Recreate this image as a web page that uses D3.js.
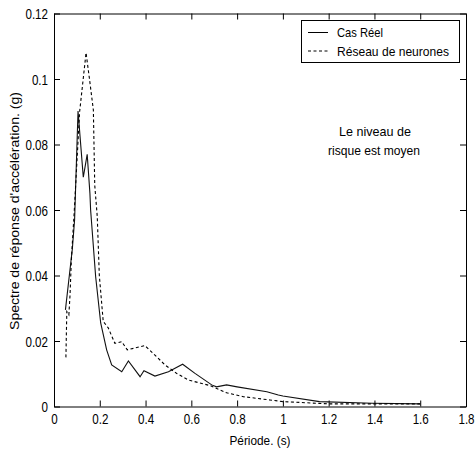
<!DOCTYPE html>
<html><head><meta charset="utf-8">
<script src="https://cdn.jsdelivr.net/npm/d3@7"></script>
<style>body{margin:0;background:#fff}svg{display:block}text{font-family:"Liberation Sans",Arial,sans-serif;fill:#000}</style>
</head><body><svg id="c" width="475" height="455"></svg>
<script>
const realX = [0.05, 0.08, 0.09, 0.105, 0.128, 0.145, 0.157, 0.16, 0.182, 0.204, 0.23, 0.252, 0.296, 0.325, 0.376, 0.393, 0.441, 0.5, 0.562, 0.616, 0.689, 0.71, 0.754, 0.8, 0.93, 0.98, 1.0, 1.16, 1.39, 1.6];
const realY = [0.0295, 0.048, 0.057, 0.0902, 0.070, 0.077, 0.065, 0.060, 0.0396, 0.0255, 0.0173, 0.0127, 0.0106, 0.0139, 0.0091, 0.0109, 0.0093, 0.0106, 0.0129, 0.0101, 0.0066, 0.006, 0.0066, 0.006, 0.0045, 0.0035, 0.0032, 0.0015, 0.001, 0.0008];
const nnX = [0.052, 0.056, 0.065, 0.07, 0.076, 0.088, 0.112, 0.14, 0.155, 0.172, 0.178, 0.189, 0.198, 0.215, 0.237, 0.266, 0.296, 0.32, 0.397, 0.426, 0.485, 0.536, 0.587, 0.681, 0.754, 0.827, 0.943, 1.0, 1.2, 1.6];
const nnY = [0.015, 0.029, 0.028, 0.034, 0.045, 0.059, 0.090, 0.108, 0.100, 0.0905, 0.0676, 0.058, 0.040, 0.026, 0.024, 0.0193, 0.0198, 0.0173, 0.0186, 0.0167, 0.0127, 0.0101, 0.0081, 0.0064, 0.0042, 0.003, 0.002, 0.0015, 0.0008, 0.0008];
const xTicks = [0, 0.2, 0.4, 0.6, 0.8, 1, 1.2, 1.4, 1.6, 1.8];
const yTicks = [0, 0.02, 0.04, 0.06, 0.08, 0.1, 0.12];
const seriesNames = ["Cas Réel", "Réseau de neurones"];

const L = 54, R = 466, T = 13.5, B = 406.5;
const svg = d3.select("#c");
const x = d3.scaleLinear().domain([0, 1.8]).range([L, R]);
const y = d3.scaleLinear().domain([0, 0.12]).range([B, T]);
const fmt = d => d === 0 ? "0" : String(d);
const fs = "14.5px", sx = 0.8;

const gx = svg.append("g").attr("transform", `translate(0,${B})`)
  .call(d3.axisBottom(x).tickValues(xTicks).tickFormat(fmt).tickSizeInner(-6).tickSizeOuter(0).tickPadding(5));
const gy = svg.append("g").attr("transform", `translate(${L},0)`)
  .call(d3.axisLeft(y).tickValues(yTicks).tickFormat(fmt).tickSizeInner(-6).tickSizeOuter(0).tickPadding(6));
const gt = svg.append("g").attr("transform", `translate(0,${T})`)
  .call(d3.axisTop(x).tickValues(xTicks).tickFormat("").tickSizeInner(-6).tickSizeOuter(0));
const gr = svg.append("g").attr("transform", `translate(${R},0)`)
  .call(d3.axisRight(y).tickValues(yTicks).tickFormat("").tickSizeInner(-6).tickSizeOuter(0));
[gx, gy, gt, gr].forEach(g => {
  g.selectAll("path.domain").attr("stroke", "#000").attr("stroke-width", 1);
  g.selectAll(".tick line").attr("stroke", "#000");
  g.selectAll("text").style("font-size", fs).style("font-family", "'Liberation Sans',Arial,sans-serif").attr("fill", "#000");
});
gx.selectAll(".tick text").attr("transform", `scale(${sx},1)`).attr("x", 0).attr("y", 7);
gy.selectAll(".tick text").attr("transform", `scale(${sx},1)`).attr("x", -6 / sx).attr("dy", "0.35em");

const line = d3.line().x(d => x(d[0])).y(d => y(d[1]));
svg.append("path").datum(realX.map((v, i) => [v, realY[i]]))
  .attr("d", line).attr("fill", "none").attr("stroke", "#111").attr("stroke-width", 1.1);
svg.append("path").datum(nnX.map((v, i) => [v, nnY[i]]))
  .attr("d", line).attr("fill", "none").attr("stroke", "#000").attr("stroke-width", 1.1).attr("stroke-dasharray", "3,2.5");

svg.append("rect").attr("x", 301.5).attr("y", 20.5).attr("width", 158).attr("height", 42)
  .attr("fill", "#fff").attr("stroke", "#000").attr("stroke-width", 1);
svg.append("line").attr("x1", 308).attr("x2", 328).attr("y1", 32.5).attr("y2", 32.5).attr("stroke", "#000");
svg.append("line").attr("x1", 308).attr("x2", 328).attr("y1", 51).attr("y2", 51).attr("stroke", "#000").attr("stroke-dasharray", "3,2.5");
svg.append("text").attr("x", 337).attr("y", 32.5).attr("dy", "0.35em").style("font-size", "13.5px")
  .attr("textLength", 46).attr("lengthAdjust", "spacingAndGlyphs").text(seriesNames[0]);
svg.append("text").attr("x", 337).attr("y", 51).attr("dy", "0.35em").style("font-size", "13.5px")
  .attr("textLength", 112).attr("lengthAdjust", "spacingAndGlyphs").text(seriesNames[1]);

svg.append("text").attr("x", 375).attr("y", 131).attr("dy", "0.35em").attr("text-anchor", "middle").style("font-size", "13.5px")
  .attr("textLength", 72).attr("lengthAdjust", "spacingAndGlyphs").text("Le niveau de");
svg.append("text").attr("x", 374).attr("y", 150).attr("dy", "0.35em").attr("text-anchor", "middle").style("font-size", "13.5px")
  .attr("textLength", 92).attr("lengthAdjust", "spacingAndGlyphs").text("risque est moyen");

svg.append("text").attr("x", 260).attr("y", 440).attr("dy", "0.35em").attr("text-anchor", "middle").style("font-size", "13.5px")
  .attr("textLength", 61).attr("lengthAdjust", "spacingAndGlyphs").text("Période. (s)");
svg.append("text").attr("transform", "translate(14,211) rotate(-90)").attr("dy", "0.35em").attr("text-anchor", "middle")
  .style("font-size", "13.5px").attr("textLength", 238).attr("lengthAdjust", "spacingAndGlyphs").text("Spectre de réponse d'accélération. (g)");
</script></body></html>
